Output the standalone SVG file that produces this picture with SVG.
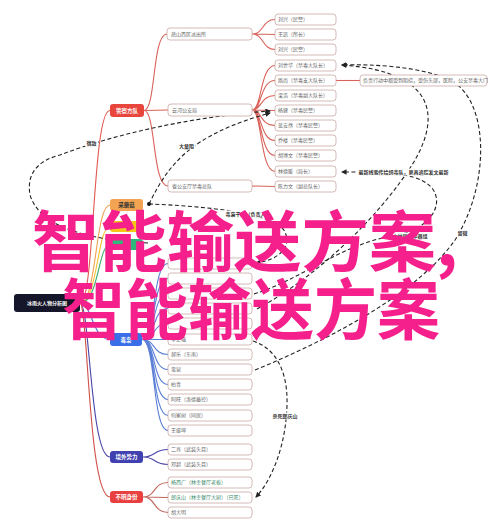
<svg xmlns="http://www.w3.org/2000/svg" width="499" height="529" viewBox="0 0 499 529">
<defs>
<marker id="arr" viewBox="0 0 6 6" refX="5" refY="3" markerWidth="5" markerHeight="5" orient="auto">
<path d="M0,0 L6,3 L0,6 z" fill="#222"/>
</marker>
<style>
text{font-family:"Noto Sans CJK SC","Noto Sans",sans-serif}
.leaf rect{fill:#fff;stroke:#c9a9a4;stroke-width:.8}
.leaf text{font-size:5px;fill:#666}
.cat text{font-size:5.5px;fill:#fff;font-weight:bold;text-anchor:middle}
.ln{fill:none;stroke-width:1.1}
.r{stroke:#d9625a}
.b{stroke:#5b7fd6}
.p{stroke:#4a48a8}
.u{stroke:#c0645a}
.dash{fill:none;stroke:#222;stroke-width:1.1;stroke-dasharray:4 2.5}
.lbl rect{fill:#fff}
.lbl text{font-size:5px;fill:#333;font-weight:bold;text-anchor:middle}
.wm{font-size:66px;font-weight:bold;fill:#f5208c}
</style>
</defs>

<g id="connectors">
<!-- root to categories -->
<path class="ln" stroke="#e05a50" d="M80,303 C95,303 92,110.5 110,110.5"/>
<path class="ln" stroke="#f0a050" d="M80,303 C97,303 95,205 110,205"/>
<path class="ln" stroke="#f2c230" d="M80,303 C98,303 97,226.5 110,226.5"/>
<path class="ln" stroke="#40b070" d="M80,303 C99,303 98,244.5 110,244.5"/>
<path class="ln" stroke="#4a72d8" d="M80,303 C92,303 92,339.5 110,339.5"/>
<path class="ln" stroke="#4a48a8" d="M80,303 C90,303 90,457 110,457"/>
<path class="ln" stroke="#d05048" d="M80,303 C88,303 88,497 110,497"/>
<!-- police -->
<path class="ln r" d="M144,110.5 C156,110.5 152,34 167,34"/>
<path class="ln r" d="M144,110.5 L168,110"/>
<path class="ln r" d="M144,110.5 C156,110.5 152,186 168,186"/>
<path class="ln r" d="M252,34 C264,34 262,19.5 275,19.5 M252,34 L275,34.5 M252,34 C264,34 262,49.5 275,49.5"/>
<path class="ln r" d="M252,110 C262,110 260,65.5 275,65.5 M252,110 C262,110 260,80.5 275,80.5 M252,110 C262,110 260,95.5 275,95.5 M252,110 L275,110.5 M252,110 C262,110 260,125.5 275,125.5 M252,110 C262,110 260,140.5 275,140.5 M252,110 C262,110 260,155.5 275,155.5 M252,110 C262,110 260,171.5 275,171.5"/>
<path class="ln r" d="M252,186 L275,186.5"/>
<path class="ln r" d="M336,80.5 L360,80.5"/>
<!-- drug lords -->
<path class="ln b" d="M142,339.5 C156,339.5 152,263.5 168,263.5 M142,339.5 C156,339.5 152,278.5 168,278.5 M142,339.5 C156,339.5 152,293.5 168,293.5 M142,339.5 C156,339.5 152,308.5 168,308.5 M142,339.5 C156,339.5 152,323.5 168,323.5 M142,339.5 L168,339.5 M142,339.5 C156,339.5 152,354.5 168,354.5 M142,339.5 C156,339.5 152,369.5 168,369.5 M142,339.5 C156,339.5 152,384.5 168,384.5 M142,339.5 C156,339.5 152,399.5 168,399.5 M142,339.5 C156,339.5 152,415.5 168,415.5 M142,339.5 C156,339.5 152,430.5 168,430.5"/>
<path class="ln p" d="M143,457 C156,457 153,449.5 168,449.5 M143,457 C156,457 153,464.5 168,464.5"/>
<path class="ln u" d="M143,497 C156,497 153,482.5 168,482.5 M143,497 L168,497.5 M143,497 C156,497 153,512.5 168,512.5"/>

<!-- dashed relations -->
<path class="dash" d="M148,243 C90,240 40,228 30,195 C26,172 40,160 60,155 C120,132 200,116 270,111" marker-end="url(#arr)"/>
<path class="dash" d="M149,204 C168,165 190,135 270,113" marker-end="url(#arr)"/>
<circle cx="149" cy="204" r="2" fill="#111"/>
<path class="dash" d="M149,204 C200,206 275,212 285,232 C292,248 278,260 256,263" marker-end="url(#arr)"/>
<path class="dash" d="M257,309 C320,275 380,215 412,165 C440,120 440,72 342,65" marker-end="url(#arr)"/>
<path class="dash" d="M255,370 C340,335 420,290 455,240 C490,185 490,100 450,80 C420,66 370,64 342,65" marker-end="url(#arr)"/>
<path class="dash" d="M254,294 C300,280 340,245 392,236 C430,230 445,205 432,188 C420,175 400,172 342,172" marker-end="url(#arr)"/>
<path class="dash" d="M253,341 C275,348 288,370 287,405 C286,445 272,480 256,497" marker-end="url(#arr)"/>

<g class="lbl"><rect x="85" y="139.5" width="13" height="7"/><text x="91.5" y="145">宿敌</text></g>
<g class="lbl"><rect x="178" y="142.5" width="17" height="7"/><text x="186.5" y="148">大量阻</text></g>
<g class="lbl"><rect x="222" y="210.5" width="52" height="7"/><text x="248" y="216">毒枭干部（负责人）</text></g>
<g class="lbl"><rect x="357" y="168.5" width="93" height="7"/><text x="403.5" y="174">最新线索传给缉毒队，更具追踪发文最新</text></g>
<g class="lbl"><rect x="391" y="232.5" width="38" height="7"/><text x="410" y="238">中林局组中器组</text></g>
<g class="lbl"><rect x="456" y="229.5" width="13" height="7"/><text x="462.5" y="235">留微</text></g>
<g class="lbl"><rect x="271" y="412.5" width="28" height="7"/><text x="285" y="418">杀死郎庆山</text></g>
</g>

<g id="root" class="cat"><rect x="14" y="294" width="66" height="18" rx="3" fill="#16162a"/><text x="47" y="305" style="font-size:5px">冰雨火人物分析图</text></g>

<g id="police" class="cat"><rect x="110" y="104" width="34" height="13" rx="3" fill="#e8453c"/><text x="127" y="112.5">警察方队</text></g>
<g id="mushroom" class="cat"><rect x="110" y="199" width="33" height="12" rx="3" fill="#f2a452"/><text x="126.5" y="207" style="fill:#333">采蘑菇</text></g>
<g id="yellow" class="cat"><rect x="110" y="221" width="33" height="11" rx="3" fill="#f5c518"/></g>
<g id="green" class="cat"><rect x="110" y="239" width="33" height="11" rx="3" fill="#2eb87a"/></g>
<g id="druglord" class="cat"><rect x="110" y="333" width="32" height="13" rx="3" fill="#3a6ee8"/><text x="126" y="341.5">毒枭</text></g>
<g id="foreign" class="cat"><rect x="110" y="451" width="33" height="12" rx="3" fill="#4040b0"/><text x="126.5" y="459">境外势力</text></g>
<g id="unknown" class="cat"><rect x="110" y="491" width="33" height="12" rx="3" fill="#e84040"/><text x="126.5" y="499">不明身份</text></g>

<g id="yanshan" class="leaf"><rect x="167" y="28" width="85" height="12" rx="3"/><text x="171" y="35.8">燕山西区派出所</text></g>
<g id="yunhe" class="leaf"><rect x="168" y="104" width="84" height="12" rx="3"/><text x="172" y="111.8">云河公安局</text></g>
<g id="province" class="leaf"><rect x="168" y="180" width="84" height="12" rx="3"/><text x="172" y="187.8">省公安厅禁毒总队</text></g>

<g id="l1" class="leaf"><rect x="275" y="14" width="61" height="11" rx="3"/><text x="278" y="21.3">刘兴（民警）</text></g>
<g id="l2" class="leaf"><rect x="275" y="29" width="61" height="11" rx="3"/><text x="278" y="36.3">王凯（所长）</text></g>
<g id="l3" class="leaf"><rect x="275" y="44" width="61" height="11" rx="3"/><text x="278" y="51.3">刘兴（民警）</text></g>
<g id="l4" class="leaf"><rect x="275" y="60" width="61" height="11" rx="3"/><text x="278" y="67.3">刘世华（禁毒大队长）</text></g>
<g id="l5" class="leaf"><rect x="275" y="75" width="61" height="11" rx="3"/><text x="278" y="82.3">路尚（禁毒支大队长）</text></g>
<g id="l6" class="leaf"><rect x="275" y="90" width="61" height="11" rx="3"/><text x="278" y="97.3">梁浩（禁毒副大队长）</text></g>
<g id="l7" class="leaf"><rect x="275" y="105" width="61" height="11" rx="3"/><text x="278" y="112.3">杨健（禁毒民警）</text></g>
<g id="l8" class="leaf"><rect x="275" y="120" width="61" height="11" rx="3"/><text x="278" y="127.3">蓝安然（禁毒民警）</text></g>
<g id="l9" class="leaf"><rect x="275" y="135" width="61" height="11" rx="3"/><text x="278" y="142.3">乔楼（禁毒民警）</text></g>
<g id="l10" class="leaf"><rect x="275" y="150" width="61" height="11" rx="3"/><text x="278" y="157.3">胡博文（禁毒民警）</text></g>
<g id="l11" class="leaf"><rect x="275" y="166" width="61" height="11" rx="3"/><text x="278" y="173.3">林德暖（局长）</text></g>
<g id="l12" class="leaf"><rect x="275" y="181" width="61" height="11" rx="3"/><text x="278" y="188.3">陈力文（副总队长）</text></g>
<g id="note" class="leaf"><rect x="360" y="75" width="127" height="11" rx="3"/><text x="363" y="82.3">负责行动中都受到阻挠，受伤头部，医院，公安禁毒大门</text></g>

<g id="d1" class="leaf"><rect x="168" y="258" width="84" height="11" rx="3"/></g>
<g id="d2" class="leaf"><rect x="168" y="273" width="84" height="11" rx="3"/></g>
<g id="d3" class="leaf"><rect x="168" y="288" width="84" height="11" rx="3"/></g>
<g id="d4" class="leaf"><rect x="168" y="303" width="84" height="11" rx="3"/></g>
<g id="d5" class="leaf"><rect x="168" y="318" width="84" height="11" rx="3"/></g>
<g id="d6" class="leaf"><rect x="168" y="334" width="84" height="11" rx="3"/><text x="171" y="341.3">李正强</text></g>
<g id="d7" class="leaf"><rect x="168" y="349" width="84" height="11" rx="3"/><text x="171" y="356.3">郝乐（东南）</text></g>
<g id="d8" class="leaf"><rect x="168" y="364" width="84" height="11" rx="3"/><text x="171" y="371.3">蛮鼠</text></g>
<g id="d9" class="leaf"><rect x="168" y="379" width="84" height="11" rx="3"/><text x="171" y="386.3">柏青</text></g>
<g id="d10" class="leaf"><rect x="168" y="394" width="84" height="11" rx="3"/><text x="171" y="401.3">阿旺（洛德蕃控）</text></g>
<g id="d11" class="leaf"><rect x="168" y="410" width="84" height="11" rx="3"/><text x="171" y="417.3">何家树（同居）</text></g>
<g id="d12" class="leaf"><rect x="168" y="425" width="84" height="11" rx="3"/><text x="171" y="432.3">王挺坤</text></g>

<g id="f1" class="leaf"><rect x="168" y="444" width="84" height="11" rx="3"/><text x="171" y="451.3">二肖（武装头目）</text></g>
<g id="f2" class="leaf"><rect x="168" y="459" width="84" height="11" rx="3"/><text x="171" y="466.3">邓超（武装头目）</text></g>

<g id="u1" class="leaf"><rect x="168" y="477" width="84" height="11" rx="3"/><text x="171" y="484.3" style="fill:#3a8a6a">杨西广（林幸餐厅老板）</text></g>
<g id="u2" class="leaf"><rect x="168" y="492" width="84" height="11" rx="3"/><text x="171" y="499.3" style="fill:#3a8a6a">郎庆山（林幸餐厅大厨）（已死）</text></g>
<g id="u3" class="leaf"><rect x="168" y="507" width="84" height="11" rx="3"/><text x="171" y="514.3">胡大明</text></g>

<g id="watermark">
<text class="wm" x="32" y="266" textLength="426" lengthAdjust="spacingAndGlyphs">智能输送方案,</text>
<text class="wm" x="62" y="334" textLength="378" lengthAdjust="spacingAndGlyphs">智能输送方案</text>
</g>
</svg>
